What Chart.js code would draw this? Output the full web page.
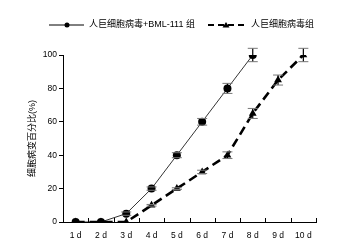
<!DOCTYPE html>
<html lang="zh">
<head>
<meta charset="UTF-8">
<title>细胞病变百分比</title>
<script src="https://cdn.jsdelivr.net/npm/chart.js@4.4.4/dist/chart.umd.js"></script>
<style>
  body { margin: 0; background: #fff; }
</style>
</head>
<body>
<canvas id="myChart" width="339" height="250"></canvas>
<script>
// 天数
const days = ['1 d', '2 d', '3 d', '4 d', '5 d', '6 d', '7 d', '8 d', '9 d', '10 d'];
// 人巨细胞病毒+BML-111 组
const bmlValues = [0, 0, 5, 20, 40, 60, 80, 100, null, null];
const bmlErrors = [0, 0, 1, 1, 1.5, 2, 3, 4, null, null];
// 人巨细胞病毒组
const hcmvValues = [0, 0, 0, 10, 20, 30, 40, 65, 85, 100];
const hcmvErrors = [0, 0, 0, 0.5, 0.5, 1, 2, 3, 3, 4];
const yTicks = [0, 20, 40, 60, 80, 100];

const labelBml = '人巨细胞病毒+BML-111 组';
const labelHcmv = '人巨细胞病毒组';
const fontFamily = '"Liberation Sans", Arial, "Noto Sans CJK SC", sans-serif';

// 误差线
const errorBars = {
  id: 'errorBars',
  afterDatasetsDraw(chart) {
    const { ctx, scales: { x, y } } = chart;
    const errs = [bmlErrors, hcmvErrors];
    ctx.save();
    chart.data.datasets.forEach((ds, di) => {
      ds.data.forEach((v, i) => {
        const e = errs[di][i];
        if (v == null || !e) return;
        const px = x.getPixelForValue(i);
        const top = y.getPixelForValue(v + e);
        const bot = y.getPixelForValue(v - e);
        ctx.strokeStyle = '#000';
        ctx.lineWidth = 1.2;
        ctx.beginPath();
        ctx.moveTo(px, top);
        ctx.lineTo(px, bot);
        ctx.stroke();
        ctx.strokeStyle = '#777';
        ctx.lineWidth = 1;
        ctx.beginPath();
        ctx.moveTo(px - 5, top);
        ctx.lineTo(px + 5, top);
        ctx.moveTo(px - 5, bot);
        ctx.lineTo(px + 5, bot);
        ctx.stroke();
      });
    });
    ctx.restore();
  }
};

// x 轴向内的刻度
const innerTicks = {
  id: 'innerTicks',
  afterDraw(chart) {
    const { ctx, scales: { x } } = chart;
    const n = days.length;
    ctx.save();
    ctx.strokeStyle = '#000';
    ctx.lineWidth = 1;
    for (let i = 0; i <= n; i++) {
      const px = Math.round(x.left + i * (x.right - x.left) / n) + 0.5;
      ctx.beginPath();
      ctx.moveTo(px, x.top);
      ctx.lineTo(px, x.top - 4);
      ctx.stroke();
    }
    ctx.restore();
  }
};

// 图例
const topLegend = {
  id: 'topLegend',
  afterDraw(chart) {
    const ctx = chart.ctx;
    const yy = 25;
    ctx.save();
    ctx.font = '9px ' + fontFamily;
    ctx.fillStyle = '#000';
    ctx.textBaseline = 'middle';
    // 实线 + 圆点
    ctx.strokeStyle = '#000';
    ctx.lineWidth = 1;
    ctx.beginPath();
    ctx.moveTo(49, yy);
    ctx.lineTo(84, yy);
    ctx.stroke();
    ctx.beginPath();
    ctx.arc(67, yy, 2.5, 0, Math.PI * 2);
    ctx.fill();
    ctx.fillText(labelBml, 89, yy);
    // 虚线 + 三角
    ctx.lineWidth = 2;
    ctx.setLineDash([6, 4]);
    ctx.beginPath();
    ctx.moveTo(208, yy);
    ctx.lineTo(248, yy);
    ctx.stroke();
    ctx.setLineDash([]);
    ctx.beginPath();
    ctx.moveTo(226, yy - 3);
    ctx.lineTo(229.5, yy + 2.5);
    ctx.lineTo(222.5, yy + 2.5);
    ctx.closePath();
    ctx.fill();
    ctx.fillText(labelHcmv, 251, yy);
    ctx.restore();
  }
};

const ctx = document.getElementById('myChart').getContext('2d');
new Chart(ctx, {
  type: 'line',
  data: {
    labels: days,
    datasets: [
      {
        label: labelBml,
        data: bmlValues,
        borderColor: '#000',
        backgroundColor: '#000',
        borderWidth: 0.8,
        pointStyle: 'circle',
        pointRadius: 4,
        pointBorderWidth: 0,
        fill: false,
        spanGaps: false
      },
      {
        label: labelHcmv,
        data: hcmvValues,
        borderColor: '#000',
        backgroundColor: '#000',
        borderWidth: 2.6,
        borderDash: [9, 5],
        pointStyle: 'triangle',
        pointRadius: 4.5,
        pointBorderWidth: 0,
        fill: false
      }
    ]
  },
  options: {
    responsive: false,
    animation: false,
    layout: { padding: { top: 55, right: 23, left: 0, bottom: 0 } },
    plugins: {
      legend: { display: false },
      tooltip: { enabled: false }
    },
    scales: {
      x: {
        offset: true,
        grid: { display: true, drawOnChartArea: false, drawTicks: false, offset: true, color: 'rgba(0,0,0,0)' },
        border: { color: '#000', width: 1 },
        ticks: { color: '#000', font: { size: 8.5, family: fontFamily }, padding: 9, maxRotation: 0, autoSkip: false },
        afterFit(scale) { scale.height = 28; }
      },
      y: {
        min: 0,
        max: 100,
        afterBuildTicks(scale) { scale.ticks = yTicks.map(v => ({ value: v })); },
        grid: { drawOnChartArea: false, drawTicks: true, tickLength: 4, color: '#000' },
        border: { color: '#000', width: 1 },
        ticks: { color: '#000', font: { size: 8.5, family: fontFamily }, padding: 2 },
        title: {
          display: true,
          text: '细胞病变百分比(%)',
          color: '#000',
          font: { size: 9, family: fontFamily },
          padding: { top: 27, bottom: 0 }
        },
        afterFit(scale) { scale.width = 63; }
      }
    }
  },
  plugins: [errorBars, innerTicks, topLegend]
});
</script>
</body>
</html>
